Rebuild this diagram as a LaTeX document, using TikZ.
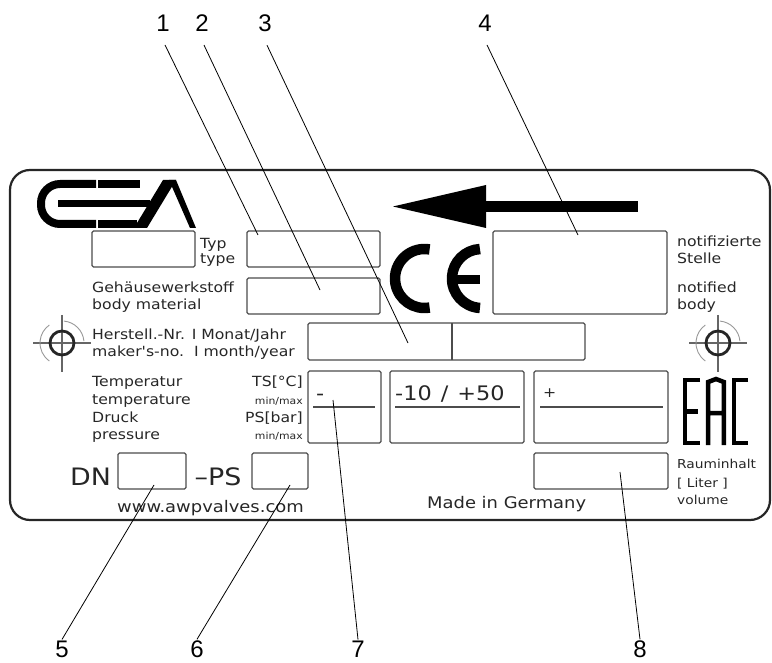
\documentclass[tikz,border=0pt]{standalone}
\usepackage{fontspec}
\newfontfamily\platefont[FakeStretch=1.12]{DejaVu Sans}
\newfontfamily\numfont{Liberation Sans}
\usepackage{tikz}
\usetikzlibrary{arrows.meta}
\tikzset{
    plate/.style={draw=black!85, line width=2.2pt, rounded corners=20pt}, % 铭牌外框
    field/.style={draw=black!70, line width=1.2pt, rounded corners=1.5pt}, % 填写栏
    rule/.style={draw=black!70, line width=1.2pt}, % 栏内横线
    callout/.style={line width=0.8pt}, % 引出线
    num/.style={font=\numfont\fontsize{24}{24}\selectfont, inner sep=1pt}, % 编号
    txt/.style={font=\platefont\fontsize{14}{17}\selectfont, text=black!85, inner sep=0pt, anchor=base west}, % 铭牌文字
    small/.style={txt, font=\platefont\fontsize{9.7}{12}\selectfont, anchor=base east},
    big/.style={txt, font=\platefont\fontsize{16}{16}\selectfont},
    logo/.style={line width=8pt},
    target/.style={line width=2.8pt, black!85},
    hair/.style={line width=1.3pt, black!60},
    ring/.style={line width=0.9pt, black!40}
}
\begin{document}
\begin{tikzpicture}[x=1pt, y=-1pt]
    \def\xmax{772} \def\ymax{663}
    \useasboundingbox (0,0) rectangle (\xmax,\ymax);

    \draw[plate] (10,170) rectangle (770,520);

    % GEA
    \draw[logo, rounded corners=19pt] (96,184) -- (41,184) -- (41,224) -- (96,224);
    \draw[logo] (98,184) -- (140,184) (98,224) -- (137,224);
    \draw[logo, line width=6.5pt] (58,203.5) -- (150,203.5);
    \fill (134,228) -- (163,180) -- (176,180) -- (147,228) -- cycle;
    \fill (169,180) -- (176,180) -- (196,228) -- (190,228) -- cycle;

    % Pfeil
    \fill (393,206.5) -- (486,185) -- (486,228) -- cycle;
    \fill (485,201) rectangle (638,212);

    % CE
    \draw[line width=10.5pt] (424.5,278.5) ++(80:29.5) arc[start angle=80, end angle=280, radius=29.5];
    \draw[line width=10.5pt] (481.5,278.5) ++(93:29.5) arc[start angle=93, end angle=267, radius=29.5];
    \draw[line width=9pt] (452,280) -- (480,280);

    % EAC
    \begin{scope}[line width=4.5pt]
        \draw (700,380.2) -- (685.2,380.2) -- (685.2,442.8) -- (700,442.8) (685.2,411.5) -- (698,411.5);
        \draw (708.2,445) -- (708.2,382) -- (716,379) -- (723.8,382) -- (723.8,445) (708.2,413) -- (723.8,413);
        \draw (748,380.2) -- (734.2,380.2) -- (734.2,442.8) -- (748,442.8);
    \end{scope}

    \foreach \a/\b/\c/\d in {92/231/195/267, 247/231/380/267, 247/278/380/314, 493/231/667/314,
        308/323/585/360, 308/371/381/443, 390/371/524/443, 534/371/668/443, 534/453/668/489,
        118/453/186/489, 252/453/308/489} {\draw[field] (\a,\b) rectangle (\c,\d);}
    \draw[rule] (313,407) -- (375,407) (395,407) -- (520,407) (540,407) -- (663,407) (452,323) -- (452,360);

    \foreach \c in {62,718} {
        \draw[hair] (\c-29,343) -- (\c+29,343) (\c,315) -- (\c,372);
        \draw[ring] (\c,343) ++(275:22) arc[start angle=275, end angle=355, radius=22];
        \draw[ring] (\c,343) ++(125:22) arc[start angle=125, end angle=235, radius=22];
        \draw[target] (\c,343) circle[radius=12];
    }

    \node[txt] (typ) at (200,249) {Typ};
    \node[txt] (type) at (200,264) {type};
    \node[txt] (gehaeuse) at (92,293) {Gehäusewerkstoff};
    \node[txt] (body) at (92,310) {body material};
    \node[txt] (herstell) at (92,340) {Herstell.-Nr. I Monat/Jahr};
    \node[txt] (maker) at (92,357) {maker's-no.~~I~month/year};
    \node[txt] (temp) at (92,387) {Temperatur};
    \node[txt] (tempe) at (92,404) {temperature};
    \node[txt] (druck) at (92,422) {Druck};
    \node[txt] (press) at (92,439) {pressure};
    \node[txt, anchor=base east] (ts) at (303,387) {TS[°C]};
    \node[small] (tsmm) at (303,404) {min/max};
    \node[txt, anchor=base east] (ps) at (303,422) {PS[bar]};
    \node[small] (psmm) at (303,439) {min/max};
    \node[txt] (notif) at (677,247) {notifizierte};
    \node[txt] (stelle) at (677,264) {Stelle};
    \node[txt] (notified) at (677,293) {notified};
    \node[txt] (nbody) at (677,310) {body};
    \node[txt, font=\platefont\fontsize{12.3}{14}\selectfont] (raum) at (677,468) {Rauminhalt};
    \node[txt, font=\platefont\fontsize{12.3}{14}\selectfont] (liter) at (677,487) {[ Liter ]};
    \node[txt, font=\platefont\fontsize{12.3}{14}\selectfont] (volume) at (677,504) {volume};
    \node[txt, font=\platefont\fontsize{20}{20}\selectfont] (tsmin) at (316,400) {-};
    \node[txt, font=\platefont\fontsize{20}{20}\selectfont] (tsval) at (395,400) {-10\hspace{9pt}/\hspace{9pt}+50};
    \node[txt] (psplus) at (543,398) {+};
    \node[big] (made) at (427,508) {Made in Germany};
    \node[big] (www) at (117,512) {www.awpvalves.com};
    \node[txt, font=\platefont\fontsize{24}{24}\selectfont] (dn) at (70,485) {DN};
    \node[txt, font=\platefont\fontsize{24}{24}\selectfont, anchor=base] (ps2) at (218,485) {–PS};

    \foreach \i/\x/\y in {1/163/23.5, 2/202/23.5, 3/265/23.5, 4/485/23.5,
        5/62/649, 6/197/649, 7/358/649, 8/640/649} {\node[num] (n\i) at (\x,\y) {\i};}
    \coordinate (p1) at (258,235); \coordinate (p2) at (320,290);
    \coordinate (p3) at (408,343); \coordinate (p4) at (578,235);
    \coordinate (p5) at (154,485); \coordinate (p6) at (290,485);
    \coordinate (p7) at (333,400); \coordinate (p8) at (620,472);
    \foreach \i in {1,...,4} {\draw[callout] ([xshift=2pt, yshift=-12pt]n\i.south) -- (p\i);}
    \foreach \i in {5,...,8} {\draw[callout] (n\i.north) -- (p\i);}
\end{tikzpicture}
\end{document}
